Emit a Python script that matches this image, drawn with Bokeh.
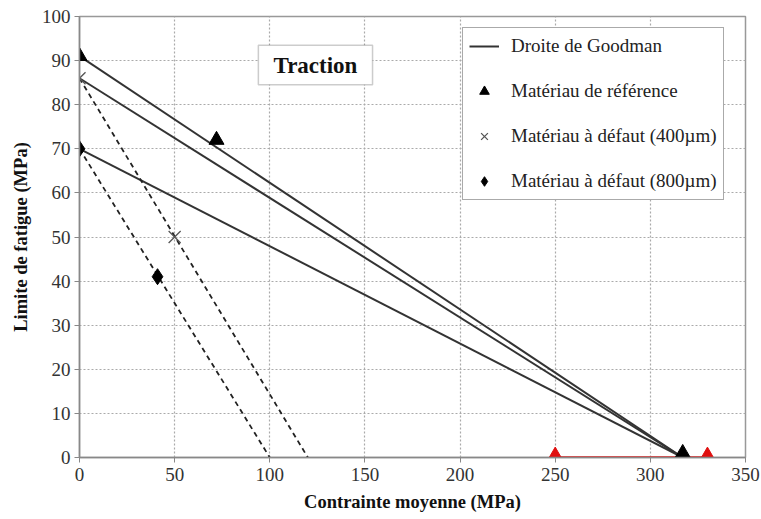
from bokeh.plotting import figure
from bokeh.models import (FixedTicker, Legend, LegendItem, BoxAnnotation, Label,
                          Range1d)
from bokeh.embed import file_html
from bokeh.resources import INLINE

# ---- data ----
x_ticks = [0, 50, 100, 150, 200, 250, 300, 350]
y_ticks = [0, 10, 20, 30, 40, 50, 60, 70, 80, 90, 100]

goodman_x = [0, 317]
goodman_ref_y = [91, 0]
goodman_400_y = [86, 0]
goodman_800_y = [70, 0]

dash_400_x = [0, 120]
dash_400_y = [86, 0]
dash_800_x = [0, 100]
dash_800_y = [70, 0]

ref_x = [0, 72, 317]
ref_y = [91, 72, 1]
d400_x = [0, 50]
d400_y = [86, 50]
d800_x = [0, 41]
d800_y = [70, 41]

red_x = [250, 330]
red_y = [0, 0]

serif = "Liberation Serif"

p = figure(width=761, height=519, output_backend="svg", toolbar_location=None,
           x_range=Range1d(0, 350), y_range=Range1d(0, 100),
           min_border_left=79, min_border_right=16, min_border_top=16, min_border_bottom=62)
p.background_fill_color = "white"
p.border_fill_color = "white"
p.outline_line_color = "#999999"
p.outline_line_width = 1.5

p.xaxis.ticker = FixedTicker(ticks=x_ticks)
p.yaxis.ticker = FixedTicker(ticks=y_ticks)
for ax in (p.xaxis[0], p.yaxis[0]):
    ax.minor_tick_line_color = None
    ax.major_tick_in = 0
    ax.major_tick_out = 5
    ax.major_tick_line_color = "#888888"
    ax.axis_line_color = "#888888"
    ax.axis_line_width = 1.5
    ax.major_label_text_font = serif
    ax.major_label_text_font_size = "19px"
    ax.major_label_text_color = "#333333"
    ax.axis_label_text_font = serif
    ax.axis_label_text_font_style = "bold"
    ax.axis_label_text_font_size = "18.5px"
    ax.axis_label_text_color = "#111111"
p.xaxis.major_label_standoff = 5
p.yaxis.major_label_standoff = 4
p.xaxis.axis_label = "Contrainte moyenne (MPa)"
p.yaxis.axis_label = "Limite de fatigue (MPa)"
p.xaxis.axis_label_standoff = 8
p.yaxis.axis_label_standoff = 8

p.grid.grid_line_color = "#aaaaaa"
p.grid.grid_line_dash = "2 2"
p.grid.grid_line_width = 1.2

# Goodman lines
l1 = p.line(goodman_x, goodman_ref_y, line_color="#333333", line_width=2)
p.line(goodman_x, goodman_400_y, line_color="#333333", line_width=2)
p.line(goodman_x, goodman_800_y, line_color="#333333", line_width=2)

# dashed
p.line(dash_400_x, dash_400_y, line_color="#222222", line_width=1.8, line_dash="5 4")
p.line(dash_800_x, dash_800_y, line_color="#222222", line_width=1.8, line_dash="5 4")

# red segment
p.line(red_x, red_y, line_color="#e01010", line_width=2.5)
p.scatter(red_x, red_y, marker="triangle", size=18, fill_color="#e01010", line_color="#e01010")

# markers
r_ref = p.scatter(ref_x, ref_y, marker="triangle", size=15, fill_color="black", line_color="black")
r_400 = p.scatter(d400_x, d400_y, marker="x", size=17, line_color="#555555", line_width=1.3)
r_800 = p.scatter(d800_x, d800_y, marker="diamond", size=16,
                  fill_color="black", line_color="black")

# title box
box = BoxAnnotation(left=94, right=154, top=93.5, bottom=84.5,
                    fill_color="white", fill_alpha=1.0,
                    line_color="#555555", line_width=1.5)
p.add_layout(box)
p.add_layout(Label(x=124, y=89, text="Traction", text_align="center",
                   text_baseline="middle", text_font=serif, text_font_style="bold",
                   text_font_size="23px", text_color="#111111"))

legend = Legend(items=[
    LegendItem(label="Droite de Goodman", renderers=[l1]),
    LegendItem(label="Matériau de référence", renderers=[r_ref]),
    LegendItem(label="Matériau à défaut (400µm)", renderers=[r_400]),
    LegendItem(label="Matériau à défaut (800µm)", renderers=[r_800]),
], location=(383, 257))
legend.label_text_font = serif
legend.label_text_font_size = "19px"
legend.label_text_color = "#222222"
legend.border_line_color = "#555555"
legend.border_line_width = 1.5
legend.background_fill_alpha = 1.0
legend.padding = 6
legend.margin = 0
legend.spacing = 21
legend.label_height = 24
legend.glyph_height = 24
legend.glyph_width = 30
legend.label_standoff = 12
p.add_layout(legend)

open("out.html", "w").write(file_html(p, INLINE))
